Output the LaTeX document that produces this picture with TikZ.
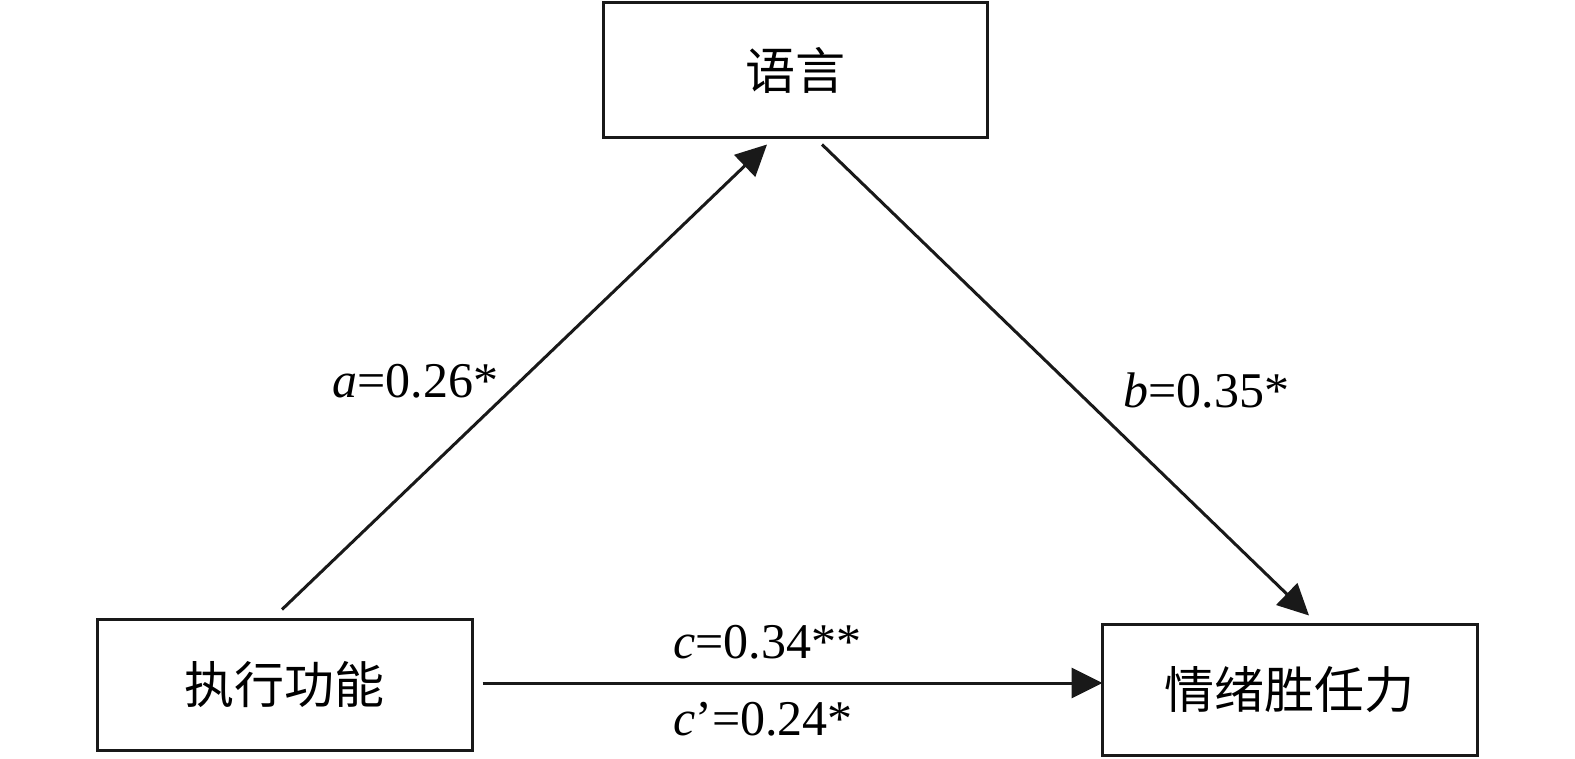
\documentclass[tikz,border=0pt]{standalone}
\usepackage{fontspec}
\setmainfont{Liberation Serif}
\newfontfamily\cjk{Noto Sans CJK SC}
\usetikzlibrary{arrows.meta,calc}
\begin{document}
\begin{tikzpicture}[x=0.5pt,y=-0.5pt,
  box/.style={draw=black!90,line width=1.5pt,rectangle,inner sep=0pt,
    font=\cjk\fontsize{25}{30}\selectfont},
  arr/.style={draw=black!90,line width=1.5pt,-{Triangle[length=15.5pt,width=15pt]}},
  lab/.style={anchor=base west,inner sep=0pt,font=\fontsize{25}{30}\selectfont}]
\useasboundingbox (0,0) rectangle (1575,759);
\node[box,minimum width=192pt,minimum height=67.5pt] (T) at (795,70.5) {语言};
\node[box,minimum width=187.5pt,minimum height=65.5pt] (L) at (284.5,684.5) {执行功能};
\node[box,minimum width=187.5pt,minimum height=65.5pt] (R) at (1289.5,689.5) {情绪胜任力};
\draw[arr] ($(L.north)+(-2.5,-8)$) -- ($(T.south)+(-28,5)$);
\draw[arr] ($(T.south)+(27,5)$) -- ($(R.north)+(19.5,-7)$);
\draw[arr] ($(L.east)+(9,-1.5)$) -- ($(R.west)+(2,-6.5)$);
\node[lab] (la) at (332,397) {\textit{a}=0.26*};
\node[lab] (lb) at (1123,408) {\textit{b}=0.35*};
\node[lab] (lc) at (673,658) {\textit{c}=0.34**};
\node[lab] (lc2) at (673,735) {\textit{c}’=0.24*};
\end{tikzpicture}
\end{document}
